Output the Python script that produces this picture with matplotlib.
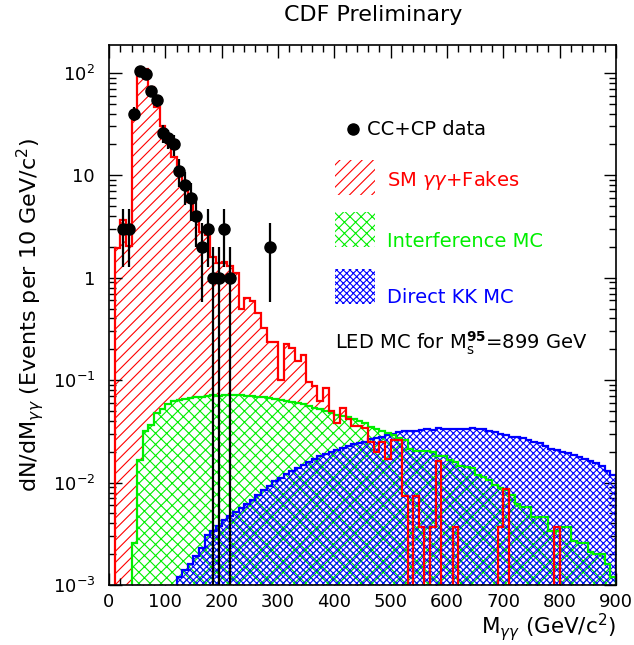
import numpy as np
import matplotlib
matplotlib.use('Agg')
import matplotlib.pyplot as plt
from matplotlib.patches import Rectangle
from matplotlib.ticker import FixedLocator, FixedFormatter, MultipleLocator, LogLocator, NullFormatter

plt.rcParams['font.family'] = ['DejaVu Sans']
plt.rcParams['mathtext.fontset'] = 'dejavusans'
plt.rcParams['hatch.linewidth'] = 0.8

# ---------------- data ----------------
bin_edges = np.arange(0, 910, 10)

sm_fakes = [
    0, 1.95, 3.7, 2.05, 39, 109, 109, 73, 46, 30,
    24, 15, 10, 7.5, 5.5, 4.3, 2.8, 2.6, 1.6, 1.4,
    1.42, 1.29, 1.1, 0.5, 0.63, 0.59, 0.455, 0.32, 0.237, 0.237,
    0.1, 0.225, 0.205, 0.153, 0.177, 0.096, 0.087, 0.063, 0.083, 0.05,
    0.038, 0.053, 0.042, 0.036, 0.036, 0.034, 0.025, 0.02, 0.025, 0.017,
    0.026, 0.026, 0.0074, 0, 0.0074, 0.0037, 0, 0.0037, 0.0162, 0,
    0, 0.0037, 0, 0, 0, 0, 0, 0, 0, 0.0037,
    0.0086, 0, 0, 0, 0, 0, 0, 0, 0, 0.0037,
    0, 0, 0, 0, 0, 0, 0, 0, 0, 0,
]

interference = [
    0, 0, 0, 0, 0.0026, 0.0168, 0.0316, 0.0367, 0.048, 0.0525,
    0.0587, 0.0623, 0.0645, 0.066, 0.067, 0.068, 0.069, 0.070, 0.071, 0.0705,
    0.072, 0.071, 0.0715, 0.071, 0.070, 0.070, 0.069, 0.068, 0.067, 0.066,
    0.064, 0.063, 0.061, 0.060, 0.058, 0.056, 0.054, 0.052, 0.050, 0.048,
    0.046, 0.045, 0.044, 0.042, 0.040, 0.038, 0.035, 0.033, 0.032, 0.0305,
    0.029, 0.027, 0.026, 0.0215, 0.0205, 0.0205, 0.0205, 0.020, 0.018, 0.018,
    0.0165, 0.016, 0.0145, 0.0143, 0.014, 0.0118, 0.0113, 0.0105, 0.0095, 0.0089,
    0.0085, 0.0075, 0.0062, 0.0058, 0.0058, 0.0046, 0.0046, 0.0046, 0.0034, 0.0034,
    0.0037, 0.0037, 0.0027, 0.0026, 0.0026, 0.0021, 0.0020, 0.0020, 0.0016, 0.0012,
]

direct_kk = [
    0, 0, 0, 0, 0, 0, 0, 0, 0, 0,
    0, 0, 0.0012, 0.0014, 0.0016, 0.0019, 0.0023, 0.0031, 0.0034, 0.0038,
    0.0043, 0.0047, 0.0052, 0.0056, 0.0062, 0.0068, 0.0075, 0.0084, 0.0092, 0.0103,
    0.011, 0.012, 0.013, 0.0139, 0.015, 0.016, 0.017, 0.018, 0.019, 0.020,
    0.021, 0.0218, 0.0226, 0.0238, 0.0245, 0.025, 0.0265, 0.027, 0.028, 0.029,
    0.0295, 0.031, 0.0316, 0.032, 0.032, 0.0325, 0.033, 0.0325, 0.034, 0.033,
    0.033, 0.0335, 0.033, 0.033, 0.034, 0.033, 0.033, 0.032, 0.031, 0.030,
    0.029, 0.028, 0.028, 0.027, 0.026, 0.025, 0.0245, 0.023, 0.0215, 0.021,
    0.020, 0.0195, 0.0185, 0.0178, 0.017, 0.0163, 0.0155, 0.0145, 0.013, 0.0118,
]

data_mass = [25, 35, 45, 55, 65, 75, 85, 95, 105, 115, 125, 135, 145, 155,
             165, 175, 185, 195, 205, 215, 285]
data_counts = [3, 3, 40, 104, 98, 67, 54, 26, 23, 20, 11, 8, 6, 4,
               2, 3, 1, 1, 3, 1, 2]

y_tick_values = [1e-3, 1e-2, 1e-1, 1, 10, 100]
y_tick_labels = [r'$10^{-3}$', r'$10^{-2}$', r'$10^{-1}$', '1', '10', r'$10^{2}$']

RED = '#ff0000'
GREEN = '#00ee00'
BLUE = '#0000ff'
HATCH_SM = '///'
HATCH_INT = 'xxx'
HATCH_KK = 'xxxxx'

# ---------------- figure ----------------
fig = plt.figure(figsize=(6.34, 6.45), dpi=100)
ax = fig.add_axes([0.1719, 0.0930, 0.7997, 0.8372])
ax.set_yscale('log')
ax.set_xlim(0, 900)
ax.set_ylim(1e-3, 187)

floor = 1e-6


def pos(v):
    v = np.asarray(v, dtype=float)
    return np.where(v > 0, v, floor)


# fills
ax.stairs(pos(sm_fakes), bin_edges, baseline=floor, fill=True, facecolor='none',
          edgecolor=RED, hatch=HATCH_SM, linewidth=0, zorder=1)
ax.stairs(pos(interference), bin_edges, baseline=floor, fill=True, facecolor='white',
          edgecolor=GREEN, hatch=HATCH_INT, linewidth=0, zorder=2)
ax.stairs(pos(direct_kk), bin_edges, baseline=floor, fill=True, facecolor='none',
          edgecolor=BLUE, hatch=HATCH_KK, linewidth=0, zorder=3)
# outlines
ax.stairs(pos(direct_kk), bin_edges, baseline=floor, fill=False, color=BLUE, lw=1.6, zorder=4)
ax.stairs(pos(interference), bin_edges, baseline=floor, fill=False, color=GREEN, lw=1.6, zorder=5)
ax.stairs(pos(sm_fakes), bin_edges, baseline=floor, fill=False, color=RED, lw=1.6, zorder=6)

# data
counts = np.asarray(data_counts, dtype=float)
err = np.sqrt(counts)
lower = np.minimum(err, counts - 1e-7)
ax.errorbar(data_mass, counts, yerr=[lower, err], fmt='o', color='black', ms=8,
            elinewidth=1.6, capsize=0, zorder=8)

# axes style
for s in ax.spines.values():
    s.set_linewidth(1.2)
    s.set_zorder(10)
ax.xaxis.set_major_locator(MultipleLocator(100))
ax.xaxis.set_minor_locator(MultipleLocator(20))
ax.yaxis.set_major_locator(FixedLocator(y_tick_values))
ax.yaxis.set_major_formatter(FixedFormatter(y_tick_labels))
ax.yaxis.set_minor_locator(LogLocator(base=10, subs=np.arange(2, 10)))
ax.yaxis.set_minor_formatter(NullFormatter())
ax.tick_params(which='both', direction='in', top=True, right=True, width=1.0)
ax.tick_params(which='major', length=9)
ax.tick_params(which='minor', length=5)
ax.tick_params(axis='x', labelsize=13, pad=6)
ax.tick_params(axis='y', labelsize=13, pad=10)

ax.set_xlabel(r'M$_{\gamma\gamma}$ (GeV/c$^{2}$)', fontsize=15.5, loc='right', labelpad=0)
ax.set_ylabel(r'dN/dM$_{\gamma\gamma}$ (Events per 10 GeV/c$^{2}$)', fontsize=16)
ax.yaxis.set_label_coords(-0.125, 0.5)
fig.text(0.589, 0.977, 'CDF Preliminary', ha='center', va='center', fontsize=16)

# legend (hand made, ROOT-like)
T = ax.transAxes
ax.plot([0.4806], [0.8439], 'o', color='black', ms=8, transform=T, zorder=9, clip_on=False)
ax.text(0.5083, 0.8439, 'CC+CP data', transform=T, fontsize=14, va='center', ha='left', color='black')

box_x, box_w, box_h = 0.4458, 0.0788, 0.064
ax.add_patch(Rectangle((box_x, 0.7222), box_w, box_h, transform=T, facecolor='none',
                       edgecolor=RED, hatch=HATCH_SM, lw=0, zorder=9))
ax.text(0.5477, 0.750, r'SM $\gamma\gamma$+Fakes', transform=T, fontsize=14, va='center', ha='left', color=RED)
ax.add_patch(Rectangle((box_x, 0.6265), box_w, box_h, transform=T, facecolor='none',
                       edgecolor=GREEN, hatch=HATCH_INT, lw=0, zorder=9))
ax.text(0.5477, 0.6357, 'Interference MC', transform=T, fontsize=14, va='center', ha='left', color=GREEN)
ax.add_patch(Rectangle((box_x, 0.5204), box_w, box_h, transform=T, facecolor='none',
                       edgecolor=BLUE, hatch=HATCH_KK, lw=0, zorder=9))
ax.text(0.5477, 0.5328, 'Direct KK MC', transform=T, fontsize=14, va='center', ha='left', color=BLUE)
ax.text(0.4458, 0.4481, r'LED MC for M$_{\rm s}^{\mathbf{95}}$=899 GeV', transform=T, fontsize=14,
        va='center', ha='left', color='black')

fig.savefig('out.png', dpi=100)
